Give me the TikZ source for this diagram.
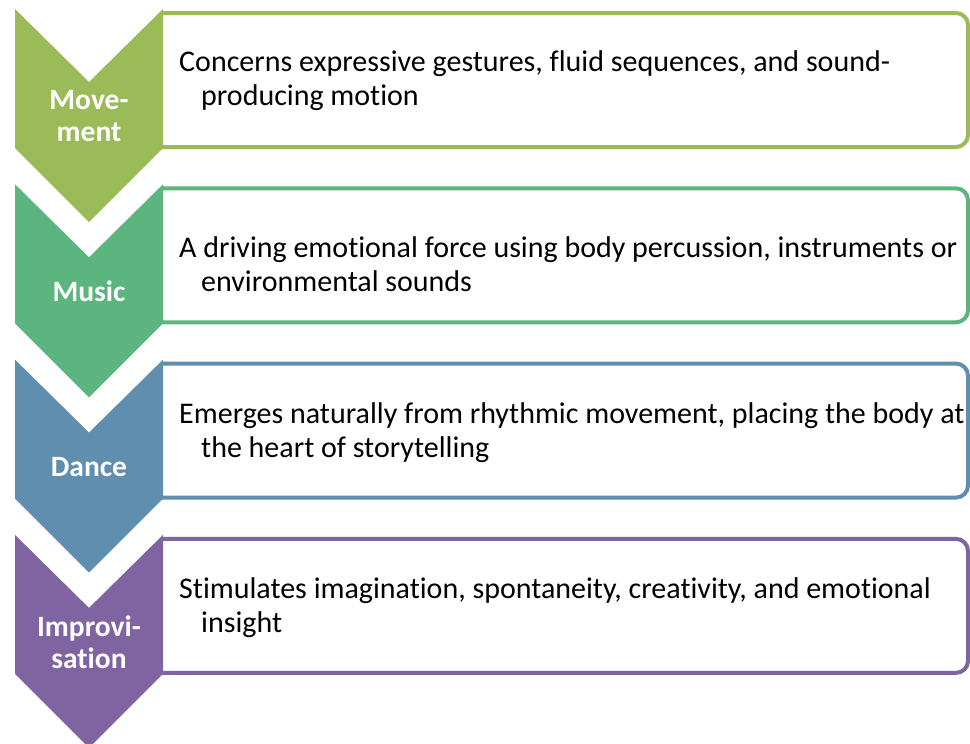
\documentclass[tikz,border=0pt]{standalone}
\usepackage{fontspec}
\setmainfont[Ligatures=NoCommon]{Carlito}
\begin{document}
\begin{tikzpicture}[x=1pt,y=-1pt,
  lbl/.style={text=white,font=\fontsize{29.5}{32}\selectfont\bfseries,align=center},
  desc/.style={text=black,font=\fontsize{30}{34}\selectfont,align=left,anchor=west,inner sep=0pt},
  boxline/.style={line width=4pt,rounded corners=12pt}]
\definecolor{cA}{HTML}{9BBB59}
\definecolor{cB}{HTML}{5CB47E}
\definecolor{cC}{HTML}{5F8EAE}
\definecolor{cD}{HTML}{8064A2}
\useasboundingbox (0,0) rectangle (970,744);
\fill[white] (0,0) rectangle (970,744);
% boxes
\foreach \T/\c in {9/cA,184.3/cB,359.6/cC,534.9/cD}{
  \fill[white,rounded corners=12pt] (155,\T+4) rectangle (968,\T+138);
  \draw[boxline,draw=\c] (162,\T+4) -- (968,\T+4) -- (968,\T+138) -- (155,\T+138);
}
% chevrons
\foreach \T/\c in {9/cA,184.3/cB,359.6/cC,534.9/cD}{
  \fill[\c] (15,\T) -- (89,\T+73) -- (163,\T) -- (163,\T+139) -- (89,\T+213) -- (15,\T+139) -- cycle;
}
\node[lbl] (l1) at (89,116) {Move-\\ment};
\node[lbl] (l2) at (89,291.3) {Music};
\node[lbl] (l3) at (89,466.6) {Dance};
\node[lbl] (l4) at (89,641.9) {Improvi-\\sation};
\node[desc] (d1) at (179,81) {Concerns expressive gestures, fluid sequences, and sound-\\\hspace*{22pt}producing motion};
\node[desc] (d2) at (179,264.5) {A driving emotional force using body percussion, instruments or\\\hspace*{22pt}environmental sounds};
\node[desc] (d3) at (179,433) {Emerges naturally from rhythmic movement, placing the body at\\\hspace*{22pt}the heart of storytelling};
\node[desc] (d4) at (179,607.5) {Stimulates imagination, spontaneity, creativity, and emotional\\\hspace*{22pt}insight};
\end{tikzpicture}
\end{document}
